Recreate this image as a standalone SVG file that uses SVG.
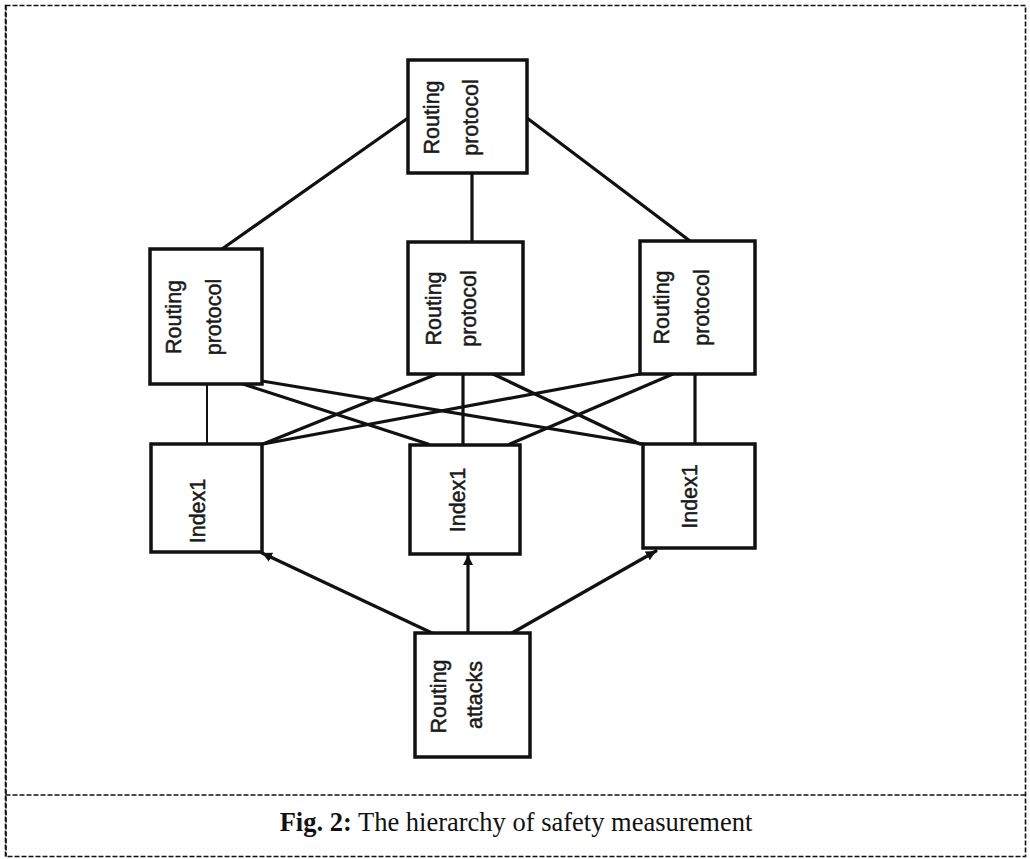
<svg xmlns="http://www.w3.org/2000/svg" width="1030" height="859" viewBox="0 0 1030 859">
<style>
.box{fill:#fff;stroke:#111;stroke-width:3.5}
.ln{stroke:#111;stroke-width:3.2;fill:none;stroke-linecap:round}
.thin{stroke:#111;stroke-width:2;fill:none}
.lbl{font-family:"Liberation Sans",Arial,sans-serif;font-size:21.5px;fill:#1a1a1a;stroke:#1a1a1a;stroke-width:0.5;text-anchor:middle}
.frame{fill:none;stroke:#111;stroke-width:1.6;stroke-dasharray:5 2}
.cap{font-family:"Liberation Serif","Times New Roman",serif;font-size:26.5px;fill:#111}
</style>
<defs>
<marker id="arr" markerUnits="userSpaceOnUse" markerWidth="12" markerHeight="12" refX="10" refY="5" orient="auto">
<path d="M0,0 L10,5 L0,10 Z" fill="#111"/>
</marker>
</defs>
<rect x="0" y="0" width="1030" height="859" fill="#fff"/>
<g id="frame">
<rect class="frame" x="5.5" y="5.5" width="1020" height="851"/>
<line class="frame" x1="5.5" y1="795" x2="1025.5" y2="795"/>
<line class="frame" x1="6" y1="5.5" x2="6" y2="856.5" stroke-width="2.4"/>
</g>
<g id="connectors">
<line class="ln" x1="408" y1="118" x2="222" y2="249"/>
<line class="ln" x1="472" y1="173" x2="472" y2="242"/>
<line class="ln" x1="527" y1="118" x2="690" y2="241"/>
<line class="thin" x1="207" y1="384" x2="207" y2="444"/>
<line class="ln" x1="243" y1="384" x2="428" y2="444"/>
<line class="ln" x1="262" y1="381" x2="643" y2="444"/>
<line class="ln" x1="437" y1="374" x2="263" y2="444"/>
<line class="ln" x1="463" y1="374" x2="463" y2="444"/>
<line class="ln" x1="493" y1="374" x2="640" y2="444"/>
<line class="ln" x1="640" y1="374" x2="263" y2="444"/>
<line class="ln" x1="673" y1="374" x2="510" y2="444"/>
<line class="ln" x1="695" y1="374" x2="695" y2="444"/>
<line class="ln" x1="432" y1="633" x2="262" y2="553" marker-end="url(#arr)"/>
<line class="ln" x1="468" y1="633" x2="468" y2="555" marker-end="url(#arr)"/>
<line class="ln" x1="512" y1="633" x2="656" y2="551" marker-end="url(#arr)"/>
</g>
<g id="top">
<rect class="box" x="408" y="60" width="119" height="113"/>
<text class="lbl" transform="translate(438.5,117.5) rotate(-90)">Routing</text>
<text class="lbl" transform="translate(477.5,117.5) rotate(-90)">protocol</text>
</g>
<g id="mid-left">
<rect class="box" x="150" y="249" width="112" height="135"/>
<text class="lbl" transform="translate(180.5,317) rotate(-90)">Routing</text>
<text class="lbl" transform="translate(221,317) rotate(-90)">protocol</text>
</g>
<g id="mid-center">
<rect class="box" x="408" y="242" width="115" height="132"/>
<text class="lbl" transform="translate(440.5,308.5) rotate(-90)">Routing</text>
<text class="lbl" transform="translate(476,308.5) rotate(-90)">protocol</text>
</g>
<g id="mid-right">
<rect class="box" x="640" y="241" width="115" height="133"/>
<text class="lbl" transform="translate(668.5,307.5) rotate(-90)">Routing</text>
<text class="lbl" transform="translate(708.5,307.5) rotate(-90)">protocol</text>
</g>
<g id="idx-left">
<rect class="box" x="151" y="444" width="111" height="108"/>
<text class="lbl" transform="translate(205,511) rotate(-90)">Index1</text>
</g>
<g id="idx-center">
<rect class="box" x="410" y="445" width="110" height="109"/>
<text class="lbl" transform="translate(465,500) rotate(-90)">Index1</text>
</g>
<g id="idx-right">
<rect class="box" x="643" y="444" width="112" height="104"/>
<text class="lbl" transform="translate(697,496.5) rotate(-90)">Index1</text>
</g>
<g id="bottom">
<rect class="box" x="415" y="633" width="115" height="124"/>
<text class="lbl" transform="translate(445.5,696.5) rotate(-90)">Routing</text>
<text class="lbl" transform="translate(482,695) rotate(-90)">attacks</text>
</g>
<g id="caption">
<text class="cap" x="516" y="831" text-anchor="middle"><tspan font-weight="bold">Fig. 2:</tspan> The hierarchy of safety measurement</text>
</g>
</svg>
